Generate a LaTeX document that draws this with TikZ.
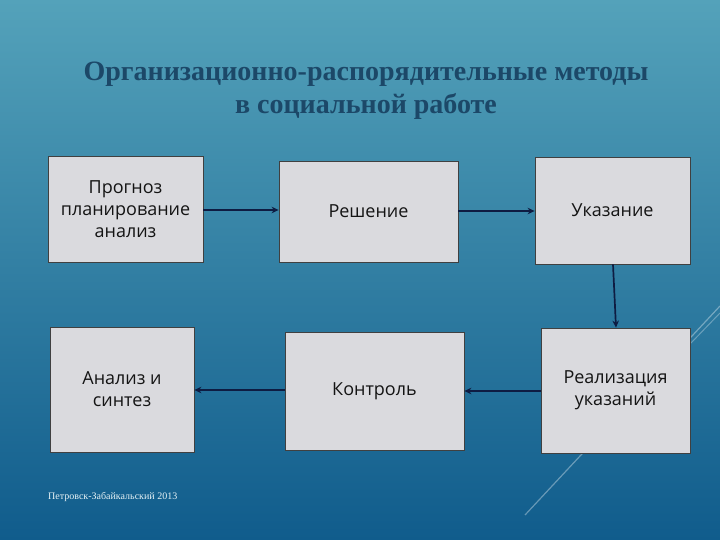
\documentclass[tikz,border=0pt]{standalone}
\usepackage{fontspec}
\setmainfont{Liberation Serif}
\newfontfamily\boxfont{Open Sans}
\usetikzlibrary{arrows.meta}
\definecolor{bgtop}{RGB}{84,162,186}
\definecolor{bgbot}{RGB}{16,92,140}
\definecolor{titlecol}{RGB}{28,72,104}
\definecolor{boxfill}{RGB}{218,218,222}
\definecolor{arrowcol}{RGB}{14,28,66}
\tikzstyle{block}=[draw=black!75, fill=boxfill, line width=0.8pt, inner sep=0pt, align=center, text=black!92, font=\boxfont\fontsize{18}{22}\selectfont]
\tikzstyle{link}=[draw=arrowcol, line width=1.7pt, -{Stealth[length=7pt, width=6.5pt]}]

\begin{document}
\begin{tikzpicture}[x=1pt, y=-1pt]
			% background
			\shade[top color=bgtop, bottom color=bgbot] (0,0) rectangle (720,540);
			\useasboundingbox (0,0) rectangle (720,540);
			\draw[white, opacity=0.35, line width=1.2pt] (525,515) -- (720,306);
			\draw[white, opacity=0.3, line width=1pt] (690,344) -- (720,313);
			% title
			\node[text=titlecol, font=\bfseries\fontsize{28}{33}\selectfont, align=center] (title) at (366,91) {Организационно-распорядительные методы\\в социальной работе};
			% blocks
			\node[block, minimum width=155pt, minimum height=106pt] (prognoz) at (125.5,209) {Прогноз\\планирование\\анализ};
			\node[block, minimum width=179pt, minimum height=101pt] (reshenie) at (368.5,211.5) {Решение};
			\node[block, minimum width=155pt, minimum height=107pt] (ukaz) at (612.5,210.5) {Указание};
			\node[block, minimum width=149pt, minimum height=125pt] (real) at (615.5,390.5) {Реализация\\указаний};
			\node[block, minimum width=179pt, minimum height=118pt] (kontrol) at (374.5,391) {Контроль};
			\node[block, minimum width=144pt, minimum height=125pt] (sintez) at (122,389.5) {Анализ и\\синтез};
			% links
			\draw[link] (prognoz.east |- 0,210) -- (reshenie.west |- 0,210);
			\draw[link] (reshenie.east |- 0,211) -- (ukaz.west |- 0,211);
			\draw[link] (ukaz.south -| 613,0) -- (real.north -| 616,0);
			\draw[link] (real.west |- 0,391) -- (kontrol.east |- 0,391);
			\draw[link] (kontrol.west |- 0,390) -- (sintez.east |- 0,390);
			% footer
			\node[text=white!85!bgtop, font=\fontsize{10}{12}\selectfont, anchor=west, inner sep=0pt] (footer) at (48,497) {Петровск-Забайкальский 2013};
		\end{tikzpicture}
\end{document}
